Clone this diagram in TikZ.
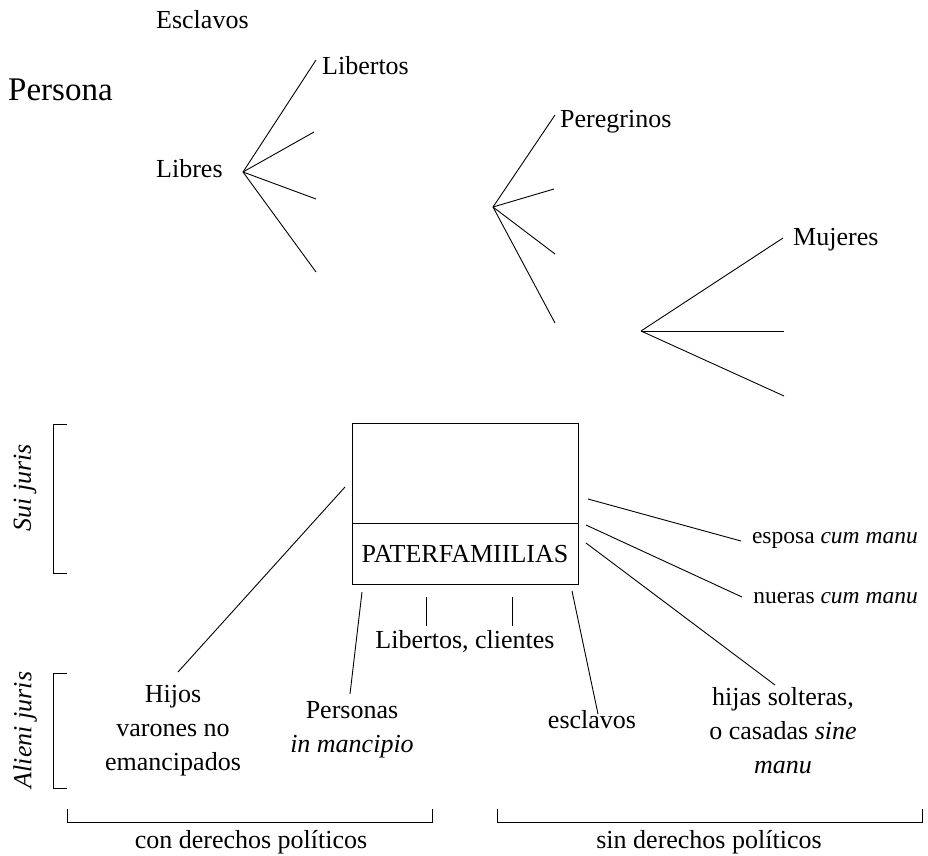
\documentclass[tikz,border=0pt]{standalone}
\usepackage{fontspec}
\setmainfont{Liberation Serif}
\begin{document}
\begin{tikzpicture}[x=1pt,y=-1pt,
  lbl/.style={inner sep=0pt,anchor=base,font=\fontsize{26}{34}\selectfont},
  lblw/.style={lbl,anchor=base west},
  lble/.style={lbl,anchor=base east,font=\fontsize{23.5}{34}\selectfont},
  grp/.style={lbl,align=center},
  side/.style={inner sep=0pt,rotate=90,font=\fontsize{26}{34}\selectfont\itshape},
  ln/.style={line width=0.9pt}]
\useasboundingbox (0,0) rectangle (928,855);
% top labels
\node[lblw] (esc) at (156,28) {Esclavos};
\node[lblw,font=\fontsize{33}{40}\selectfont] (per) at (8,100) {Persona};
\node[lblw] (lib) at (156,177) {Libres};
\node[lblw] (libt) at (322,74) {Libertos};
\node[lblw] (pere) at (560,127) {Peregrinos};
\node[lblw] (muj) at (793,245) {Mujeres};
% fan 1
\coordinate (a1) at (243,172);
\coordinate (a1e1) at (316,60);
\coordinate (a1e2) at (314,132);
\coordinate (a1e3) at (316,199);
\coordinate (a1e4) at (316,272);
\foreach \e in {a1e1,a1e2,a1e3,a1e4} \draw[ln] (a1) -- (\e);
% fan 2
\coordinate (a2) at (493,207);
\coordinate (a2e1) at (555,115);
\coordinate (a2e2) at (554,189);
\coordinate (a2e3) at (555,254);
\coordinate (a2e4) at (555,323);
\foreach \e in {a2e1,a2e2,a2e3,a2e4} \draw[ln] (a2) -- (\e);
% fan 3
\coordinate (a3) at (641,331);
\coordinate (a3e1) at (783,238);
\coordinate (a3e2) at (784,331);
\coordinate (a3e3) at (784,396);
\foreach \e in {a3e1,a3e2,a3e3} \draw[ln] (a3) -- (\e);
% box
\node[draw,line width=0.9pt,minimum width=226pt,minimum height=161pt,inner sep=0pt] (box) at (465,503.5) {};
\draw[ln] (352,523) coordinate (dl) -- (578,523) coordinate (dr);
\node[lbl] (pat) at (465,562) {PATERFAMIILIAS};
% side brackets
\draw[ln] (67,424) -- (53,424) -- (53,573) -- (67,573);
\node[side] (sui) at (25,488) {Sui juris};
\draw[ln] (67,673) -- (53,673) -- (53,788) -- (67,788);
\node[side] (ali) at (25,730) {Alieni juris};
% bottom brackets
\draw[ln] (67,809) -- (67,822) -- (432,822) -- (432,809);
\node[lbl] (con) at (251,848) {con derechos políticos};
\draw[ln] (497,809) -- (497,822) -- (922,822) -- (922,809);
\node[lbl] (sin) at (709,848) {sin derechos políticos};
% lower labels
\node[grp] (hij) at (173,770) {Hijos\\varones no\\emancipados};
\node[grp] (pers) at (352,752) {Personas\\\textit{in mancipio}};
\node[lbl] (libc) at (465,648) {Libertos, clientes};
\node[lbl] (escl) at (592,728) {esclavos};
\node[lble] (esp) at (918,543) {esposa \textit{cum manu}};
\node[lble] (nue) at (918,603) {nueras \textit{cum manu}};
\node[grp] (hija) at (783,773) {hijas solteras,\\o casadas \textit{sine}\\\textit{manu}};
% connectors
\coordinate (h1) at (345,487); \coordinate (h2) at (178,672);
\draw[ln] (h1) -- (h2);
\coordinate (p1) at (362,592); \coordinate (p2) at (350,694);
\draw[ln] (p1) -- (p2);
\coordinate (l1) at (426,597); \coordinate (l2) at (426,626);
\draw[ln] (l1) -- (l2);
\coordinate (l3) at (512,597); \coordinate (l4) at (512,626);
\draw[ln] (l3) -- (l4);
\coordinate (s1) at (572,591); \coordinate (s2) at (598,714);
\draw[ln] (s1) -- (s2);
\coordinate (e1) at (588,499); \coordinate (e2) at (741,541);
\draw[ln] (e1) -- (e2);
\coordinate (n1) at (586,525); \coordinate (n2) at (742,597);
\draw[ln] (n1) -- (n2);
\coordinate (j1) at (586,543); \coordinate (j2) at (775,685);
\draw[ln] (j1) -- (j2);
\end{tikzpicture}
\end{document}
